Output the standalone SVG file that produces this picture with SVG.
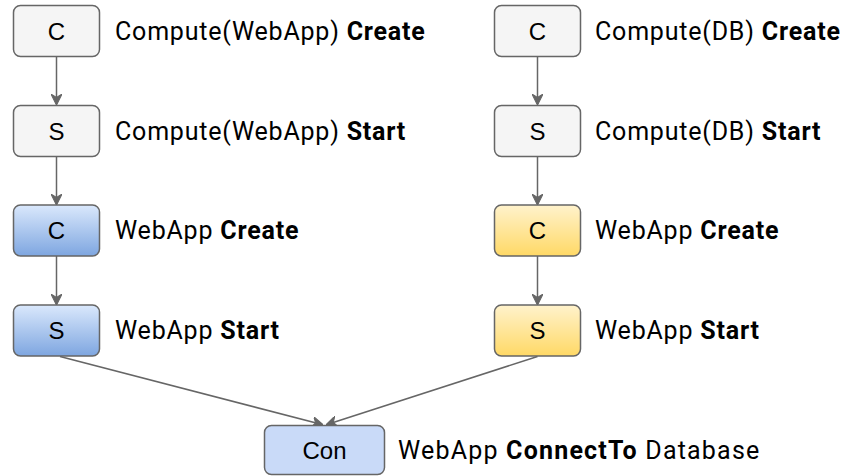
<svg xmlns="http://www.w3.org/2000/svg" width="844" height="476" viewBox="0 0 844 476">
  <defs>
    <linearGradient id="blueFill" x1="0" y1="0" x2="0" y2="1">
      <stop offset="0" stop-color="#dae8fc"/>
      <stop offset="1" stop-color="#7ea6e0"/>
    </linearGradient>
    <linearGradient id="yellowFill" x1="0" y1="0" x2="0" y2="1">
      <stop offset="0" stop-color="#fff2cc"/>
      <stop offset="1" stop-color="#ffd966"/>
    </linearGradient>
    <marker id="arrow" viewBox="0 0 10 10" refX="9" refY="5" markerWidth="11" markerHeight="11" markerUnits="userSpaceOnUse" orient="auto">
      <path d="M0,0 L10,5 L0,10 L3,5 Z" fill="#666666" stroke="#666666" stroke-width="1"/>
    </marker>
    <style>
      .box { stroke: #666666; stroke-width: 1.5; }
      .plain { fill: #f5f5f5; }
      .blue { fill: url(#blueFill); }
      .yellow { fill: url(#yellowFill); }
      .con { fill: #c9daf8; }
      .tag { font-family: "Liberation Sans", Arial, sans-serif; font-size: 24px; fill: #000; text-anchor: middle; }
      .label { font-family: Roboto, "Noto Sans", sans-serif; font-size: 25px; letter-spacing: 0.8px; fill: #000; }
      .label .b { font-weight: bold; }
      .wide { letter-spacing: 1.2px; }
      .edge { fill: none; stroke: #666666; stroke-width: 1.5; marker-end: url(#arrow); }
    </style>
  </defs>

  <g id="connectors">
    <path class="edge" d="M56.5,56.5 V104"/>
    <path class="edge" d="M56.5,156 V204"/>
    <path class="edge" d="M56.5,256 V304"/>
    <path class="edge" d="M537.5,56.5 V104"/>
    <path class="edge" d="M537.5,156 V204"/>
    <path class="edge" d="M537.5,256 V304"/>
    <path class="edge" d="M60,356.5 L322,424.5"/>
    <path class="edge" d="M537.5,356.5 L327,424.5"/>
  </g>

  <g id="web-compute-create">
    <rect class="box plain" x="13.5" y="5.5" width="86" height="51" rx="7"/>
    <text class="tag" x="56.5" y="39.5">C</text>
    <text class="label" x="115" y="39.5">Compute(WebApp) <tspan class="b">Create</tspan></text>
  </g>
  <g id="web-compute-start">
    <rect class="box plain" x="13.5" y="105.5" width="86" height="51" rx="7"/>
    <text class="tag" x="56.5" y="139.5">S</text>
    <text class="label" x="115" y="139.5">Compute(WebApp) <tspan class="b">Start</tspan></text>
  </g>
  <g id="webapp-create">
    <rect class="box blue" x="13.5" y="205" width="86" height="51" rx="7"/>
    <text class="tag" x="56.5" y="239">C</text>
    <text class="label" x="115" y="239">WebApp <tspan class="b">Create</tspan></text>
  </g>
  <g id="webapp-start">
    <rect class="box blue" x="13.5" y="305" width="86" height="51" rx="7"/>
    <text class="tag" x="56.5" y="339">S</text>
    <text class="label" x="115" y="339">WebApp <tspan class="b">Start</tspan></text>
  </g>

  <g id="db-compute-create">
    <rect class="box plain" x="494.5" y="5.5" width="86" height="51" rx="7"/>
    <text class="tag" x="537.5" y="39.5">C</text>
    <text class="label" x="595" y="39.5">Compute(DB) <tspan class="b">Create</tspan></text>
  </g>
  <g id="db-compute-start">
    <rect class="box plain" x="494.5" y="105.5" width="86" height="51" rx="7"/>
    <text class="tag" x="537.5" y="139.5">S</text>
    <text class="label" x="595" y="139.5">Compute(DB) <tspan class="b">Start</tspan></text>
  </g>
  <g id="db-webapp-create">
    <rect class="box yellow" x="494.5" y="205" width="86" height="51" rx="7"/>
    <text class="tag" x="537.5" y="239">C</text>
    <text class="label" x="595" y="239">WebApp <tspan class="b">Create</tspan></text>
  </g>
  <g id="db-webapp-start">
    <rect class="box yellow" x="494.5" y="305" width="86" height="51" rx="7"/>
    <text class="tag" x="537.5" y="339">S</text>
    <text class="label" x="595" y="339">WebApp <tspan class="b">Start</tspan></text>
  </g>

  <g id="connect-to">
    <rect class="box con" x="264.5" y="425.5" width="120" height="49" rx="7"/>
    <text class="tag" x="324.5" y="458.5">Con</text>
    <text class="label wide" x="398" y="458.5">WebApp <tspan class="b">ConnectTo</tspan> Database</text>
  </g>
</svg>
